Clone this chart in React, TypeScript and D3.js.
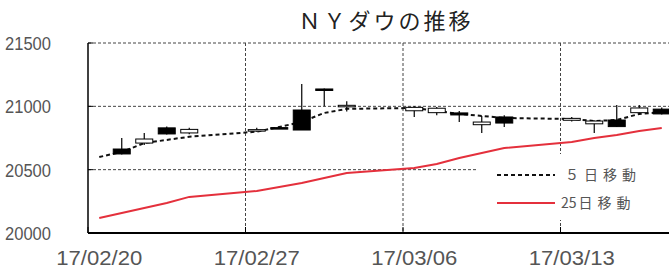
import React from 'react';
import * as d3 from 'd3';

// chart data
const chartTitle = 'ＮＹダウの推移';
const tradeDates = [
  '2017-02-21', '2017-02-22', '2017-02-23', '2017-02-24',
  '2017-02-27', '2017-02-28', '2017-03-01', '2017-03-02', '2017-03-03',
  '2017-03-06', '2017-03-07', '2017-03-08', '2017-03-09', '2017-03-10',
  '2017-03-13', '2017-03-14', '2017-03-15', '2017-03-16', '2017-03-17',
];
const openValues = [20663, 20710, 20830, 20790, 20810, 20832, 20971, 21137, 21000, 20965, 20950, 20948, 20855, 20916, 20890, 20862, 20892, 20950, 20978];
const highValues = [20750, 20790, 20840, 20830, 20830, 20838, 21176, 21140, 21040, 21000, 20995, 20963, 20924, 20930, 20915, 20888, 21010, 21010, 20990];
const lowValues = [20620, 20695, 20778, 20780, 20800, 20822, 20813, 21000, 20960, 20915, 20930, 20876, 20790, 20837, 20880, 20790, 20837, 20935, 20935];
const closeValues = [20624, 20742, 20782, 20818, 20816, 20826, 20813, 21128, 21008, 20992, 20985, 20932, 20876, 20868, 20905, 20884, 20840, 20987, 20940];

// moving averages start one day earlier (02/20)
const maDates = ['2017-02-20', ...tradeDates];
const ma5Values = [20600, 20640, 20710, 20735, 20760, 20800, 20837, 20877, 20948, 20980, 20987, 20963, 20940, 20924, 20908, 20900, 20884, 20892, 20940, 20955];
const ma25Values = [20119, 20158, 20198, 20237, 20285, 20332, 20363, 20395, 20434, 20474, 20513, 20545, 20592, 20632, 20671, 20719, 20750, 20774, 20805, 20829];

const yTicks = [20000, 20500, 21000, 21500];
const xTickDates = ['2017-02-20', '2017-02-27', '2017-03-06', '2017-03-13'];
const xTickLabels = ['17/02/20', '17/02/27', '17/03/06', '17/03/13'];
const legendNumbers = ['５', '25'];
const legendSuffix = '日移動';

const W = 669;
const H = 275;
const plot = { left: 88, top: 43, bottom: 233, right: 673 };

const parse = d3.utcParse('%Y-%m-%d');

export default function App() {
  const x = d3.scaleUtc()
    .domain([parse('2017-02-20')!, parse('2017-03-18')!])
    .range([plot.left, plot.right]);
  const y = d3.scaleLinear().domain([20000, 21500]).range([plot.bottom, plot.top]);

  // candles sit at the middle of their day
  const mid = (s: string) => x(d3.utcHour.offset(parse(s)!, 12));

  const line = d3.line<number>()
    .x((_, i) => mid(maDates[i]))
    .y(d => y(d));

  const bodyW = 17;
  const labelFont = '"Liberation Sans", "DejaVu Sans", sans-serif';
  const jpFont = '"Noto Sans CJK JP", sans-serif';

  return (
    <div>
      <style>{'body{margin:0}'}</style>
      <svg width={W} height={H} style={{ display: 'block', background: '#fff' }}>
        {/* title */}
        <text x={386} y={29} textAnchor="middle" fontSize={22} letterSpacing={3}
          fontFamily={jpFont} fill="#222">{chartTitle}</text>

        {/* grid */}
        {yTicks.slice(1).map(v => (
          <line key={'h' + v} x1={plot.left} x2={W} y1={y(v)} y2={y(v)}
            stroke="#444" strokeWidth={1} strokeDasharray="3,2" />
        ))}
        {xTickDates.slice(1).map(d => (
          <line key={'v' + d} x1={x(parse(d)!)} x2={x(parse(d)!)} y1={plot.top} y2={plot.bottom}
            stroke="#444" strokeWidth={1} strokeDasharray="3,2" />
        ))}

        {/* legend background hides the grid behind it */}
        <rect x={478} y={154} width={W - 478} height={66} fill="#fff" />

        {/* moving averages */}
        <path d={line(ma25Values) ?? ''} fill="none" stroke="#e4303c" strokeWidth={2} />
        <path d={line(ma5Values) ?? ''} fill="none" stroke="#111" strokeWidth={2} strokeDasharray="4,3" />

        {/* candles */}
        {tradeDates.map((d, i) => {
          const cx = mid(d);
          const o = openValues[i];
          const c = closeValues[i];
          const top = y(Math.max(o, c));
          const bot = y(Math.min(o, c));
          const down = c < o;
          return (
            <g key={d}>
              <line x1={cx} x2={cx} y1={y(highValues[i])} y2={y(lowValues[i])} stroke="#000" strokeWidth={1.2} />
              <rect x={cx - bodyW / 2} y={top} width={bodyW} height={Math.max(bot - top, 1.5)}
                fill={down ? '#000' : '#fff'} stroke="#000" strokeWidth={1} />
            </g>
          );
        })}

        {/* axes */}
        <line x1={plot.left} x2={plot.left} y1={plot.top} y2={plot.bottom} stroke="#000" strokeWidth={1.5} />
        <line x1={plot.left} x2={W} y1={plot.bottom} y2={plot.bottom} stroke="#000" strokeWidth={2} />
        {yTicks.map(v => (
          <g key={'yt' + v}>
            <line x1={plot.left} x2={plot.left + 5} y1={y(v)} y2={y(v)} stroke="#000" />
            <text x={5} y={y(v) + 7} fontSize={19} fontFamily={labelFont} fill="#555"
              textLength={46} lengthAdjust="spacingAndGlyphs">{v}</text>
          </g>
        ))}
        {xTickDates.map((d, i) => (
          <g key={'xt' + d}>
            <line x1={x(parse(d)!)} x2={x(parse(d)!)} y1={plot.bottom} y2={plot.bottom - 6} stroke="#000" />
            <text x={mid(d) - 43} y={265} fontSize={21} fontFamily={labelFont} fill="#555"
              textLength={86} lengthAdjust="spacingAndGlyphs">
              {xTickLabels[i]}
            </text>
          </g>
        ))}

        {/* legend */}
        <line x1={497} x2={555} y1={175} y2={175} stroke="#111" strokeWidth={2} strokeDasharray="4,3" />
        <text x={565} y={180} fontSize={14} letterSpacing={5} fontFamily={jpFont} fill="#555">
          {legendNumbers[0] + legendSuffix}
        </text>
        <line x1={497} x2={555} y1={203} y2={203} stroke="#e4303c" strokeWidth={2} />
        <text x={561} y={208} fontSize={14} fontFamily={jpFont} fill="#555">
          <tspan>{legendNumbers[1]}</tspan>
          <tspan dx={2} letterSpacing={5}>{legendSuffix}</tspan>
        </text>
      </svg>
    </div>
  );
}
